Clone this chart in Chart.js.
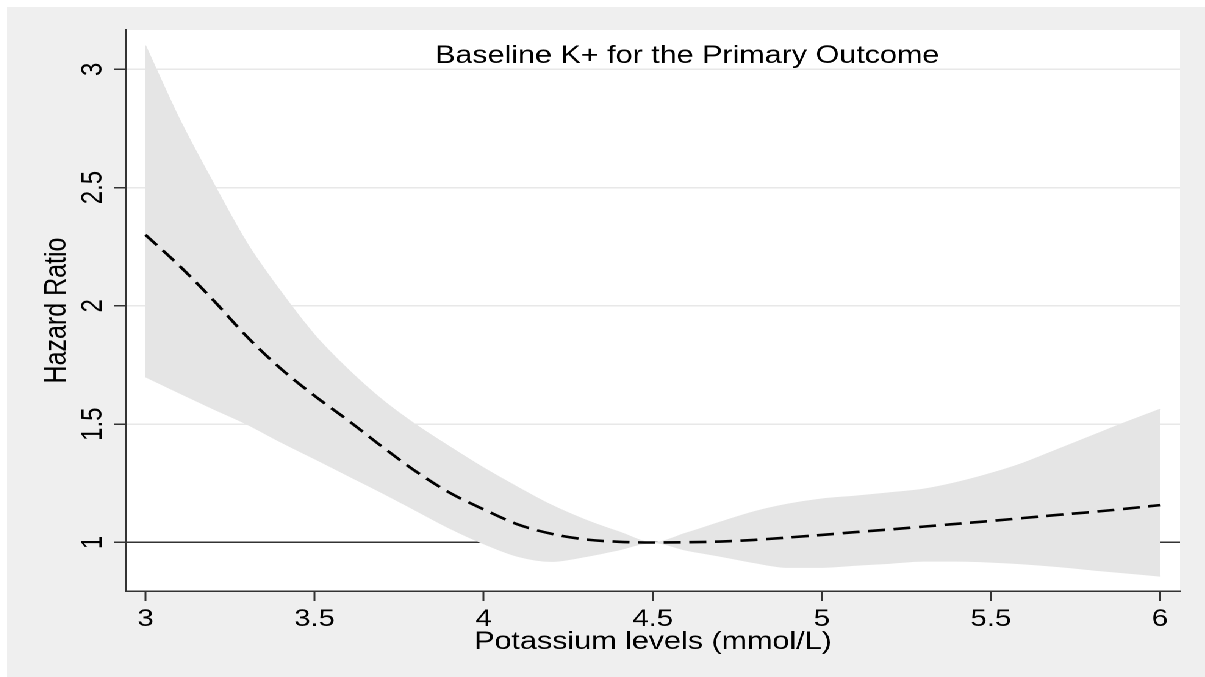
<!DOCTYPE html>
<html>
<head>
<meta charset="utf-8">
<title>Baseline K+ for the Primary Outcome</title>
<script src="https://cdn.jsdelivr.net/npm/chart.js@4.4.1/dist/chart.umd.min.js"></script>
<style>
  html, body { margin: 0; padding: 0; background: #ffffff; overflow: hidden; }
  /* the source picture is stretched sideways, so the chart is drawn narrow and widened */
  #wrap {
    position: absolute;
    left: 7px;
    top: 7px;
    width: 982px;
    height: 670px;
    background: #efefef;
    transform: scaleX(1.22);
    transform-origin: 0 0;
  }
</style>
</head>
<body>
<div id="wrap"><canvas id="hrChart" width="982" height="670"></canvas></div>
<script>
const K_LEVELS = [
  3.0, 3.1, 3.2, 3.3, 3.4, 3.5, 3.6, 3.7, 3.8, 3.9, 4.0, 4.1, 4.2, 4.3, 4.4, 4.5,
  4.6, 4.7, 4.8, 4.9, 5.0, 5.1, 5.2, 5.3, 5.4, 5.5, 5.6, 5.7, 5.8, 5.9, 6.0,
];
const HR = [
  2.3, 2.17, 2.025, 1.87, 1.735, 1.62, 1.515, 1.405, 1.3, 1.21, 1.14, 1.077, 1.037, 1.013, 1.003, 1.0,
  1.001, 1.004, 1.011, 1.021, 1.032, 1.044, 1.055, 1.067, 1.079, 1.091, 1.104, 1.117, 1.129, 1.143, 1.158,
];
const CI_UPPER = [
  3.1, 2.79, 2.52, 2.265, 2.06, 1.877, 1.73, 1.603, 1.497, 1.404, 1.315, 1.234, 1.158, 1.096, 1.045, 1.0,
  1.04, 1.086, 1.13, 1.162, 1.184, 1.196, 1.21, 1.225, 1.254, 1.292, 1.338, 1.395, 1.452, 1.509, 1.563,
];
const CI_LOWER = [
  1.7, 1.632, 1.565, 1.5, 1.425, 1.354, 1.282, 1.21, 1.135, 1.06, 0.995, 0.942, 0.92, 0.94, 0.969, 1.0,
  0.967, 0.942, 0.915, 0.895, 0.895, 0.904, 0.912, 0.921, 0.921, 0.917, 0.909, 0.898, 0.884, 0.871, 0.858,
];
const X_TICKS = [3, 3.5, 4, 4.5, 5, 5.5, 6];
const Y_TICKS = [1, 1.5, 2, 2.5, 3];

const CHART_TITLE = "Baseline K+ for the Primary Outcome";
const X_TITLE = "Potassium levels (mmol/L)";
const Y_TITLE = "Hazard Ratio";

const FONT_FAMILY = "'Liberation Sans', Arial, sans-serif";
const AXIS_DARK = "#333333";
const GRID_GREY = "#e8e8e8";
const BAND_GREY = "#e5e5e5";

function toPoints(values) {
  return K_LEVELS.map((k, i) => ({ x: k, y: values[i] }));
}

// white plot region on the grey graph background
const plotBackground = {
  id: "plotBackground",
  beforeDraw(chart) {
    const { ctx, chartArea: a } = chart;
    ctx.save();
    ctx.fillStyle = "#ffffff";
    ctx.fillRect(a.left, a.top, a.right - a.left, a.bottom - a.top);
    ctx.restore();
  },
};

// the title sits inside the plot region, like the Stata original
const plotTitle = {
  id: "plotTitle",
  afterDatasetsDraw(chart) {
    const { ctx } = chart;
    ctx.save();
    ctx.font = `25px ${FONT_FAMILY}`;
    ctx.fillStyle = "#000000";
    ctx.textAlign = "center";
    ctx.textBaseline = "middle";
    ctx.fillText(CHART_TITLE, 557.5, 49);
    ctx.restore();
  },
};

const canvas = document.getElementById("hrChart");
new Chart(canvas, {
  type: "line",
  data: {
    datasets: [
      {
        label: "HR",
        data: toPoints(HR),
        borderColor: "#000000",
        borderWidth: 2.6,
        borderDash: [14, 7],
        pointRadius: 0,
        fill: false,
        cubicInterpolationMode: "monotone",
      },
      {
        label: "lower",
        data: toPoints(CI_LOWER),
        borderColor: BAND_GREY,
        borderWidth: 1,
        pointRadius: 0,
        fill: false,
        cubicInterpolationMode: "monotone",
      },
      {
        label: "upper",
        data: toPoints(CI_UPPER),
        borderColor: BAND_GREY,
        borderWidth: 1,
        backgroundColor: BAND_GREY,
        pointRadius: 0,
        fill: "-1",
        cubicInterpolationMode: "monotone",
      },
    ],
  },
  options: {
    responsive: false,
    devicePixelRatio: 2,
    animation: false,
    layout: { padding: { top: 23, right: 20.5, bottom: 0, left: 0 } },
    plugins: {
      legend: { display: false },
      tooltip: { enabled: false },
    },
    scales: {
      x: {
        type: "linear",
        min: 2.9423,
        max: 6.0592,
        afterBuildTicks: (s) => {
          s.ticks = X_TICKS.map((v) => ({ value: v }));
        },
        afterFit: (s) => {
          s.height = 86;
        },
        grid: {
          drawOnChartArea: false,
          drawTicks: true,
          tickLength: 10,
          tickColor: AXIS_DARK,
          tickWidth: 1.5,
        },
        border: { color: AXIS_DARK, width: 1.5 },
        ticks: {
          autoSkip: false,
          minRotation: 0,
          maxRotation: 0,
          padding: 4,
          color: "#000000",
          font: { family: FONT_FAMILY, size: 24 },
          callback: (v) => String(v),
        },
        title: {
          display: true,
          text: X_TITLE,
          color: "#000000",
          font: { family: FONT_FAMILY, size: 25 },
          padding: { top: 0, bottom: 20 },
        },
      },
      y: {
        type: "linear",
        min: 0.795,
        max: 3.166,
        afterBuildTicks: (s) => {
          s.ticks = Y_TICKS.map((v) => ({ value: v }));
        },
        afterFit: (s) => {
          s.width = 97.5;
        },
        grid: {
          color: (c) => (c.tick && c.tick.value === 1 ? AXIS_DARK : GRID_GREY),
          lineWidth: 1.5,
          tickLength: 10,
          tickColor: AXIS_DARK,
          tickWidth: 1.5,
        },
        border: { color: AXIS_DARK, width: 1.6 },
        ticks: {
          minRotation: 90,
          maxRotation: 90,
          crossAlign: "center",
          padding: 0,
          color: "#000000",
          font: { family: FONT_FAMILY, size: 24 },
          callback: (v) => String(v),
        },
        title: {
          display: true,
          text: Y_TITLE,
          color: "#000000",
          font: { family: FONT_FAMILY, size: 25 },
          padding: { top: 26, bottom: 0 },
        },
      },
    },
  },
  plugins: [plotBackground, plotTitle],
});
</script>
</body>
</html>
